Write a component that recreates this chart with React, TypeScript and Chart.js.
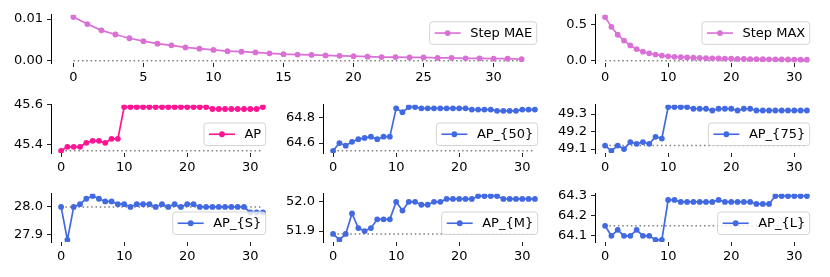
import React, { useEffect, useRef } from "react";
import { Chart, registerables } from "chart.js";
Chart.register(...registerables);

// ---------- data ----------
const steps = [0, 1, 2, 3, 4, 5, 6, 7, 8, 9, 10, 11, 12, 13, 14, 15, 16, 17, 18, 19, 20, 21, 22, 23, 24, 25, 26, 27, 28, 29, 30, 31, 32];

const stepMAE = [0.0105, 0.0088, 0.0073, 0.0063, 0.0054, 0.0047, 0.0041, 0.0037, 0.0032, 0.0029, 0.0026, 0.0023, 0.0022, 0.002, 0.0018, 0.0016, 0.0015, 0.0014, 0.0013, 0.0012, 0.0011, 0.001, 0.0009, 0.0009, 0.0008, 0.0008, 0.0007, 0.0007, 0.0006, 0.0006, 0.0005, 0.0005, 0.0004];
const stepMAX = [0.6, 0.465, 0.357, 0.277, 0.21, 0.16, 0.125, 0.103, 0.085, 0.071, 0.062, 0.055, 0.05, 0.046, 0.042, 0.039, 0.036, 0.034, 0.032, 0.03, 0.028, 0.026, 0.025, 0.024, 0.023, 0.022, 0.021, 0.02, 0.019, 0.018, 0.017, 0.016, 0.015];
const ap = [45.37, 45.39, 45.39, 45.39, 45.41, 45.42, 45.42, 45.41, 45.43, 45.43, 45.59, 45.59, 45.59, 45.59, 45.59, 45.59, 45.59, 45.59, 45.59, 45.59, 45.59, 45.59, 45.59, 45.59, 45.58, 45.58, 45.58, 45.58, 45.58, 45.58, 45.58, 45.58, 45.59];
const ap50 = [64.54, 64.6, 64.58, 64.61, 64.63, 64.64, 64.65, 64.63, 64.65, 64.65, 64.87, 64.84, 64.88, 64.88, 64.87, 64.87, 64.87, 64.87, 64.87, 64.87, 64.87, 64.87, 64.86, 64.86, 64.86, 64.86, 64.85, 64.85, 64.85, 64.85, 64.86, 64.86, 64.86];
const ap75 = [49.12, 49.09, 49.12, 49.1, 49.14, 49.13, 49.14, 49.13, 49.17, 49.16, 49.34, 49.34, 49.34, 49.34, 49.33, 49.33, 49.33, 49.32, 49.33, 49.33, 49.33, 49.32, 49.33, 49.33, 49.32, 49.32, 49.32, 49.32, 49.32, 49.32, 49.32, 49.32, 49.32];
const apS = [28.0, 27.88, 28.0, 28.01, 28.03, 28.04, 28.03, 28.02, 28.02, 28.01, 28.01, 28.0, 28.01, 28.01, 28.01, 28.0, 28.01, 28.0, 28.01, 28.0, 28.01, 28.01, 28.0, 28.0, 28.0, 28.0, 28.0, 28.0, 28.0, 28.0, 27.98, 27.98, 27.98];
const apM = [51.89, 51.87, 51.89, 51.96, 51.91, 51.9, 51.91, 51.94, 51.94, 51.94, 52.0, 51.97, 52.0, 52.0, 51.99, 51.99, 52.0, 52.0, 52.01, 52.01, 52.01, 52.01, 52.01, 52.02, 52.02, 52.02, 52.02, 52.01, 52.01, 52.01, 52.01, 52.01, 52.01];
const apL = [64.15, 64.1, 64.13, 64.1, 64.1, 64.13, 64.1, 64.1, 64.08, 64.08, 64.28, 64.28, 64.27, 64.27, 64.27, 64.27, 64.27, 64.27, 64.28, 64.27, 64.27, 64.27, 64.27, 64.27, 64.26, 64.26, 64.26, 64.3, 64.3, 64.3, 64.3, 64.3, 64.3];

const xTicksFine = [0, 5, 10, 15, 20, 25, 30];
const xTicksCoarse = [0, 10, 20, 30];

const yTicksMAE = [0, 0.01];
const yTicksMAX = [0, 0.5];
const yTicksAP = [45.4, 45.6];
const yTicksAP50 = [64.6, 64.8];
const yTicksAP75 = [49.1, 49.2, 49.3];
const yTicksAPS = [27.9, 28.0];
const yTicksAPM = [51.9, 52.0];
const yTicksAPL = [64.1, 64.2, 64.3];

// ---------- styling / layout ----------
const PINK_LIGHT = "#DA70D6";
const PINK_DEEP = "#FF1493";
const BLUE = "#4169E1";
const FONT = "'DejaVu Sans', sans-serif";

const YW = 50; // y axis box width
const XH = 30; // x axis box height
const PAD_R = 12;

type Panel = {
  label: string;
  data: number[];
  color: string;
  baseline: number;
  yTicks: number[];
  decimals: number;
  xTicks: number[];
  L: number; R: number; T: number; B: number;
  legend: "upper" | "lower";
};

const panels: Panel[] = [
  { label: "Step MAE", data: stepMAE, color: PINK_LIGHT, baseline: 0, yTicks: yTicksMAE, decimals: 2, xTicks: xTicksFine, L: 51, R: 544, T: 13, B: 62.2, legend: "upper" },
  { label: "Step MAX", data: stepMAX, color: PINK_LIGHT, baseline: 0, yTicks: yTicksMAX, decimals: 1, xTicks: xTicksCoarse, L: 595, R: 817, T: 13, B: 62.2, legend: "upper" },
  { label: "AP", data: ap, color: PINK_DEEP, baseline: ap[0], yTicks: yTicksAP, decimals: 1, xTicks: xTicksCoarse, L: 51, R: 273, T: 103, B: 152.3, legend: "lower" },
  { label: "AP_{50}", data: ap50, color: BLUE, baseline: ap50[0], yTicks: yTicksAP50, decimals: 1, xTicks: xTicksCoarse, L: 323, R: 545, T: 103, B: 152.3, legend: "lower" },
  { label: "AP_{75}", data: ap75, color: BLUE, baseline: ap75[0], yTicks: yTicksAP75, decimals: 1, xTicks: xTicksCoarse, L: 595, R: 817, T: 103, B: 152.3, legend: "lower" },
  { label: "AP_{S}", data: apS, color: BLUE, baseline: apS[0], yTicks: yTicksAPS, decimals: 1, xTicks: xTicksCoarse, L: 51, R: 273, T: 192.4, B: 241.6, legend: "lower" },
  { label: "AP_{M}", data: apM, color: BLUE, baseline: apM[0], yTicks: yTicksAPM, decimals: 1, xTicks: xTicksCoarse, L: 323, R: 545, T: 192.4, B: 241.6, legend: "lower" },
  { label: "AP_{L}", data: apL, color: BLUE, baseline: apL[0], yTicks: yTicksAPL, decimals: 1, xTicks: xTicksCoarse, L: 595, R: 817, T: 192.4, B: 241.6, legend: "lower" },
];

function legendPlugin(label: string, color: string, pos: "upper" | "lower") {
  return {
    id: "boxLegend",
    afterDraw(chart: any) {
      const ctx = chart.ctx as CanvasRenderingContext2D;
      const a = chart.chartArea;
      ctx.save();
      ctx.font = `13px ${FONT}`;
      const tw = ctx.measureText(label).width;
      const padL = 5, handle = 26, gap = 9.5, padR = 4.5, h = 22.5;
      const w = padL + handle + gap + tw + padR;
      const x = a.right - 7.3 - w;
      const y = pos === "upper" ? a.top + 7 : a.bottom - 7.5 - h;
      const r = 3;
      ctx.beginPath();
      ctx.moveTo(x + r, y);
      ctx.lineTo(x + w - r, y);
      ctx.arcTo(x + w, y, x + w, y + r, r);
      ctx.lineTo(x + w, y + h - r);
      ctx.arcTo(x + w, y + h, x + w - r, y + h, r);
      ctx.lineTo(x + r, y + h);
      ctx.arcTo(x, y + h, x, y + h - r, r);
      ctx.lineTo(x, y + r);
      ctx.arcTo(x, y, x + r, y, r);
      ctx.closePath();
      ctx.fillStyle = "rgba(255,255,255,0.8)";
      ctx.fill();
      ctx.strokeStyle = "#d3d3d3";
      ctx.lineWidth = 1;
      ctx.stroke();
      const cy = y + h / 2;
      ctx.beginPath();
      ctx.moveTo(x + padL, cy);
      ctx.lineTo(x + padL + handle, cy);
      ctx.strokeStyle = color;
      ctx.lineWidth = 1.6;
      ctx.stroke();
      ctx.beginPath();
      ctx.arc(x + padL + handle / 2, cy, 2.9, 0, Math.PI * 2);
      ctx.fillStyle = color;
      ctx.fill();
      ctx.fillStyle = "#000";
      ctx.textBaseline = "middle";
      ctx.textAlign = "left";
      ctx.fillText(label, x + padL + handle + gap, cy + 0.5);
      ctx.restore();
    },
  };
}

function PanelChart({ p }: { p: Panel }) {
  const ref = useRef<HTMLCanvasElement | null>(null);
  const topInt = Math.floor(p.T) - 10;
  const padT = p.T - topInt;
  const left = p.L - YW;
  const width = p.R - p.L + YW + PAD_R;
  const height = Math.ceil(padT + (p.B - p.T) + XH);

  useEffect(() => {
    if (!ref.current) return;
    const pts = p.data.map((v, i) => ({ x: steps[i], y: v }));
    const base = [
      { x: steps[0], y: p.baseline },
      { x: steps[steps.length - 1], y: p.baseline },
    ];
    const all = p.data.concat([p.baseline]);
    const lo = Math.min(...all);
    const hi = Math.max(...all);
    const m = (hi - lo) * 0.05;
    const xlo = steps[0], xhi = steps[steps.length - 1];
    const xm = (xhi - xlo) * 0.05;
    const tickFont = { family: FONT, size: 13 };

    const chart = new Chart(ref.current, {
      type: "line",
      data: {
        datasets: [
          {
            data: pts,
            borderColor: p.color,
            backgroundColor: p.color,
            borderWidth: 1.7,
            pointRadius: 2.9,
            pointBorderWidth: 0,
            pointBackgroundColor: p.color,
            tension: 0,
            order: 1,
          },
          {
            data: base,
            borderColor: "rgba(120,120,120,0.95)",
            borderWidth: 1.5,
            borderDash: [1.5, 2.8],
            pointRadius: 0,
            tension: 0,
            order: 2,
          },
        ],
      },
      options: {
        animation: false,
        responsive: false,
        maintainAspectRatio: false,
        layout: { padding: { left: 0, top: padT, right: PAD_R, bottom: 0 } },
        plugins: { legend: { display: false }, tooltip: { enabled: false } },
        scales: {
          x: {
            type: "linear",
            min: xlo - xm,
            max: xhi + xm,
            afterBuildTicks: (ax: any) => {
              ax.ticks = p.xTicks.map((v) => ({ value: v }));
            },
            afterFit: (s: any) => {
              s.height = XH;
            },
            border: { display: false },
            grid: { drawOnChartArea: false, drawTicks: true, tickLength: 4, color: "#222", lineWidth: 1 },
            ticks: {
              padding: 3,
              color: "#000",
              font: tickFont,
              maxRotation: 0,
              autoSkip: false,
              callback: (v: any) => String(v),
            },
          },
          y: {
            type: "linear",
            min: lo - m,
            max: hi + m,
            afterBuildTicks: (ax: any) => {
              ax.ticks = p.yTicks.map((v) => ({ value: v }));
            },
            afterFit: (s: any) => {
              s.width = YW;
            },
            border: { display: true, color: "#000", width: 1 },
            grid: { drawOnChartArea: false, drawTicks: true, tickLength: 4, color: "#222", lineWidth: 1 },
            ticks: {
              padding: 4,
              color: "#000",
              font: tickFont,
              autoSkip: false,
              callback: (v: any) => Number(v).toFixed(p.decimals),
            },
          },
        },
      },
      plugins: [legendPlugin(p.label, p.color, p.legend)],
    } as any);
    return () => chart.destroy();
  }, [p]);

  return (
    <canvas
      ref={ref}
      width={width}
      height={height}
      style={{ position: "absolute", left, top: topInt, width, height }}
    />
  );
}

export default function App() {
  return (
    <div style={{ position: "absolute", left: 0, top: 0, width: 830, height: 277, background: "#fff", overflow: "hidden" }}>
      {panels.map((p) => (
        <PanelChart key={p.label} p={p} />
      ))}
    </div>
  );
}
